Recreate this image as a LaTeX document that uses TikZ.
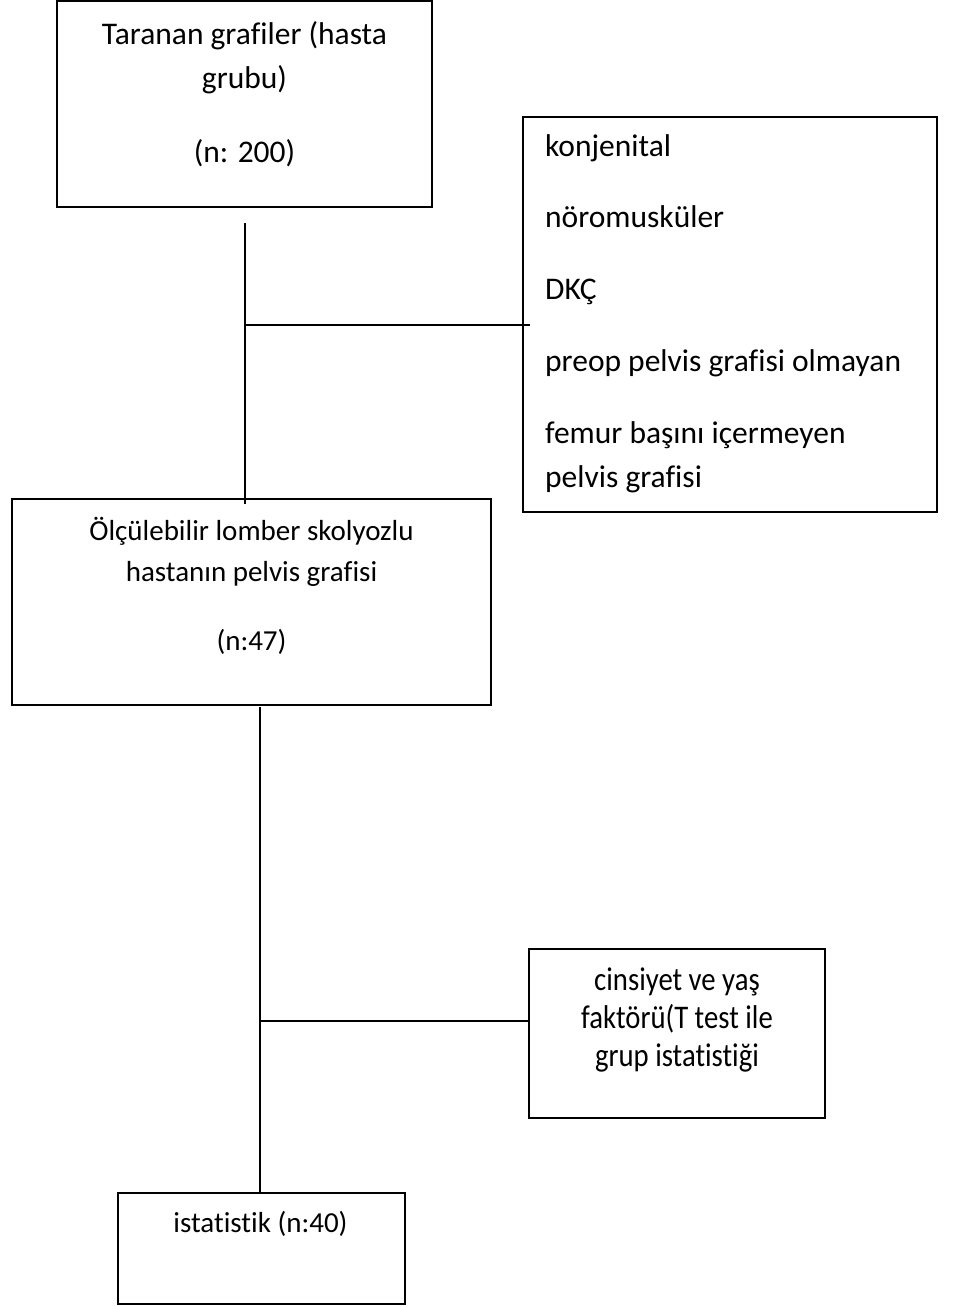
\documentclass[tikz,border=0pt]{standalone}
\usepackage{fontspec}
\setmainfont[Ligatures=NoCommon]{Carlito}
\newfontfamily\darfont[FakeStretch=0.87,Ligatures=NoCommon]{Carlito}
\usepackage{tikz}
\usetikzlibrary{fit}

\begin{document}
\begin{tikzpicture}[x=1pt,y=-1pt,
  kutu/.style={draw,line width=1.8pt,inner sep=0pt},
  buyuk/.style={font=\fontsize{31.5}{38}\selectfont,inner sep=0pt,anchor=base},
  orta/.style={font=\fontsize{29}{35}\selectfont,inner sep=0pt,anchor=base},
  dar/.style={font=\darfont\fontsize{33}{38}\selectfont,inner sep=0pt,anchor=base},
  hat/.style={line width=1.5pt}]
  \useasboundingbox (0,0) rectangle (956,1307);

  \node[kutu, fit={(57,1) (432,207)}] (tarama) {};
  \node[buyuk] (tarama1) at (244.5,44) {Taranan grafiler (hasta};
  \node[buyuk] (tarama2) at (244.5,88) {grubu)};
  \node[buyuk] (tarama3) at (244.5,162) {(n: 200)};

  \node[kutu, fit={(523,117) (937,512)}] (dislama) {};
  \node[buyuk, anchor=base west] (dislama1) at (545,156) {konjenital};
  \node[buyuk, anchor=base west] (dislama2) at (545,227) {nöromusküler};
  \node[buyuk, anchor=base west] (dislama3) at (545,299) {DKÇ};
  \node[buyuk, anchor=base west] (dislama4) at (545,371) {preop pelvis grafisi olmayan};
  \node[buyuk, anchor=base west] (dislama5) at (545,443) {femur başını içermeyen};
  \node[buyuk, anchor=base west] (dislama6) at (545,487) {pelvis grafisi};

  \node[kutu, fit={(12,499) (491,705)}] (olcum) {};
  \node[orta] (olcum1) at (251.5,540) {Ölçülebilir lomber skolyozlu};
  \node[orta] (olcum2) at (251.5,581) {hastanın pelvis grafisi};
  \node[orta] (olcum3) at (251.5,650) {(n:47)};

  \node[kutu, fit={(529,949) (825,1118)}] (faktor) {};
  \node[dar] (faktor1) at (677,990) {cinsiyet ve yaş};
  \node[dar] (faktor2) at (677,1028) {faktörü(T test ile};
  \node[dar] (faktor3) at (677,1066) {grup istatistiği};

  \node[kutu, fit={(118,1193) (405,1304)}] (istatistik) {};
  \node[orta] (istatistik1) at (260.5,1232) {istatistik (n:40)};

  \coordinate (a1) at (245,223);
  \coordinate (a2) at (245,504);
  \coordinate (a3) at (245,325);
  \coordinate (a4) at (530,325);
  \draw[hat] (a1) -- (a2);
  \draw[hat] (a3) -- (a4);

  \coordinate (b1) at (260,707);
  \coordinate (b2) at (istatistik.north -| b1);
  \coordinate (b3) at (260,1021);
  \draw[hat] (b1) -- (b2);
  \draw[hat] (b3) -- (faktor.west |- b3);
\end{tikzpicture}
\end{document}
